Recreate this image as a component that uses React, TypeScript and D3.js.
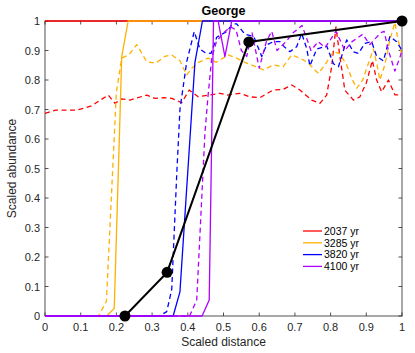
import React from "react";
import * as d3 from "d3";

type Pt = [number, number];

const title = "George";
const xLabel = "Scaled distance";
const yLabel = "Scaled abundance";
const xTicks = [0, 0.1, 0.2, 0.3, 0.4, 0.5, 0.6, 0.7, 0.8, 0.9, 1];
const yTicks = [0, 0.1, 0.2, 0.3, 0.4, 0.5, 0.6, 0.7, 0.8, 0.9, 1];
const years = ["2037 yr", "3285 yr", "3820 yr", "4100 yr"];

const solid2037: Pt[] = [[0, 1], [1, 1]];
const solid3285: Pt[] = [[0, 0], [0.173, 0], [0.194, 0.026], [0.215, 0.88], [0.233, 1], [1, 1]];
const solid3820: Pt[] = [[0, 0], [0.359, 0], [0.378, 0.082], [0.42, 0.86], [0.441, 1], [1, 1]];
const solid4100: Pt[] = [[0, 0], [0.44, 0], [0.46, 0.054], [0.472, 1], [0.485, 1], [0.504, 0.879], [0.523, 1], [1, 1]];

const dashed2037: Pt[] = [
  [0, 0.687], [0.03, 0.698], [0.09, 0.698], [0.13, 0.712], [0.177, 0.749], [0.196, 0.721],
  [0.215, 0.736], [0.238, 0.732], [0.285, 0.749], [0.308, 0.738], [0.331, 0.74], [0.355, 0.738],
  [0.383, 0.723], [0.404, 0.766], [0.429, 0.743], [0.46, 0.749], [0.49, 0.755], [0.51, 0.749],
  [0.546, 0.755], [0.574, 0.743], [0.602, 0.74], [0.639, 0.766], [0.667, 0.768], [0.691, 0.783],
  [0.714, 0.766], [0.747, 0.732], [0.77, 0.721], [0.789, 0.749], [0.803, 0.845], [0.815, 0.98],
  [0.826, 0.88], [0.84, 0.765], [0.864, 0.732], [0.882, 0.743], [0.9, 0.79], [0.917, 0.866],
  [0.929, 0.8], [0.943, 0.76], [0.962, 0.8], [0.98, 0.75], [1, 0.749],
];
const dashed3285: Pt[] = [
  [0, 0], [0.15, 0], [0.172, 0.05], [0.2, 0.76], [0.215, 0.875], [0.235, 0.885], [0.257, 0.92],
  [0.285, 0.862], [0.31, 0.857], [0.335, 0.88], [0.355, 0.885], [0.378, 0.865], [0.397, 0.817],
  [0.411, 0.84], [0.43, 0.86], [0.457, 0.874], [0.48, 0.86], [0.513, 0.885], [0.537, 0.874],
  [0.56, 0.86], [0.59, 0.845], [0.612, 0.834], [0.639, 0.851], [0.667, 0.845], [0.691, 0.885],
  [0.714, 0.874], [0.735, 0.86], [0.766, 0.822], [0.784, 0.851], [0.808, 0.896], [0.825, 0.89],
  [0.845, 0.851], [0.859, 0.806], [0.873, 0.772], [0.89, 0.8], [0.906, 0.857], [0.92, 0.905],
  [0.929, 0.857], [0.938, 0.8], [0.952, 0.851], [0.966, 0.935], [0.98, 0.995], [0.99, 0.93],
  [1, 0.882],
];
const dashed3820: Pt[] = [
  [0, 0], [0.32, 0], [0.341, 0.015], [0.355, 0.09], [0.369, 0.48], [0.378, 0.7], [0.397, 0.862],
  [0.418, 0.964], [0.434, 0.905], [0.448, 0.893], [0.465, 0.89], [0.481, 0.945], [0.51, 0.965],
  [0.525, 0.99], [0.537, 0.99], [0.56, 0.955], [0.585, 0.947], [0.607, 0.88], [0.621, 0.919],
  [0.64, 0.93], [0.658, 0.93], [0.67, 0.913], [0.686, 0.896], [0.705, 0.913], [0.719, 0.958],
  [0.733, 0.907], [0.742, 0.848], [0.761, 0.905], [0.789, 0.915], [0.808, 0.855], [0.822, 0.845],
  [0.845, 0.936], [0.864, 0.895], [0.878, 0.89], [0.896, 0.924], [0.915, 0.93], [0.929, 0.88],
  [0.948, 0.865], [0.966, 0.947], [0.985, 0.93], [1, 0.9],
];
const dashed4100: Pt[] = [
  [0, 0], [0.405, 0], [0.425, 0.054], [0.448, 0.62], [0.457, 0.75], [0.467, 0.874], [0.48, 0.93],
  [0.5, 0.96], [0.52, 0.98], [0.535, 0.97], [0.55, 0.9], [0.565, 0.88], [0.58, 0.96], [0.6, 0.84],
  [0.62, 0.93], [0.635, 0.965], [0.65, 0.9], [0.675, 0.93], [0.695, 0.96], [0.72, 0.985],
  [0.745, 0.9], [0.765, 0.93], [0.785, 0.91], [0.815, 0.965], [0.84, 0.9], [0.86, 0.93],
  [0.89, 0.955], [0.91, 0.92], [0.94, 0.96], [0.95, 0.965], [0.962, 0.9], [0.98, 0.83],
  [0.995, 0.88], [1, 0.9],
];
const fieldPoints: Pt[] = [[0.224, 0], [0.342, 0.148], [0.571, 0.929], [1, 1]];

const colors = ["#ff0000", "#ffb000", "#0000ff", "#b000ff"];
const solids = [solid2037, solid3285, solid3820, solid4100];
const dashes = [dashed2037, dashed3285, dashed3820, dashed4100];

const W = 415;
const H = 353;
const M = { left: 45, right: 402, top: 21, bottom: 316 };
const FONT = "'Liberation Sans', Arial, Helvetica, sans-serif";
const AX = "#262626";

export default function App() {
  const x = d3.scaleLinear().domain([0, 1]).range([M.left, M.right]);
  const y = d3.scaleLinear().domain([0, 1]).range([M.bottom, M.top]);
  const line = d3.line<Pt>().x((d) => x(d[0])).y((d) => y(d[1]));
  const fmt = (v: number) => d3.format("~g")(v);
  const tl = 3.5;

  return (
    <div style={{ position: "fixed", left: 0, top: 0, width: W, height: H, background: "#fff" }}>
      <svg width={W} height={H} style={{ display: "block" }} fontFamily={FONT}>
        <rect x={0} y={0} width={W} height={H} fill="#fff" />
        {/* box */}
        <rect x={M.left} y={M.top} width={M.right - M.left} height={M.bottom - M.top} fill="none" stroke={AX} strokeWidth={0.8} />
        {xTicks.map((t) => (
          <g key={"xt" + t}>
            <line x1={x(t)} x2={x(t)} y1={M.bottom} y2={M.bottom - tl} stroke={AX} strokeWidth={0.8} />
            <line x1={x(t)} x2={x(t)} y1={M.top} y2={M.top + tl} stroke={AX} strokeWidth={0.8} />
            <text x={x(t)} y={M.bottom + 15} textAnchor="middle" fontSize={11} fill={AX}>{fmt(t)}</text>
          </g>
        ))}
        {yTicks.map((t) => (
          <g key={"yt" + t}>
            <line x1={M.left} x2={M.left + tl} y1={y(t)} y2={y(t)} stroke={AX} strokeWidth={0.8} />
            <line x1={M.right} x2={M.right - tl} y1={y(t)} y2={y(t)} stroke={AX} strokeWidth={0.8} />
            <text x={M.left - 5} y={y(t) + 4} textAnchor="end" fontSize={11} fill={AX}>{fmt(t)}</text>
          </g>
        ))}
        {/* series */}
        {colors.map((c, i) => (
          <g key={"s" + i}>
            <path d={line(solids[i]) || ""} fill="none" stroke={c} strokeWidth={1.3} strokeLinejoin="round" />
            <path d={line(dashes[i]) || ""} fill="none" stroke={c} strokeWidth={1.3} strokeDasharray="5,3.5" strokeLinejoin="round" />
          </g>
        ))}
        <path d={line(fieldPoints) || ""} fill="none" stroke="#000" strokeWidth={2} />
        {fieldPoints.map((p, i) => (
          <circle key={"m" + i} cx={x(p[0])} cy={y(p[1])} r={5.5} fill="#000" />
        ))}
        {/* legend */}
        {years.map((yr, i) => (
          <g key={"l" + i}>
            <line x1={303} x2={322} y1={231 + i * 11.8} y2={231 + i * 11.8} stroke={colors[i]} strokeWidth={1.3} />
            <text x={324} y={231 + i * 11.8 + 3.7} fontSize={10.5} fill="#000">{yr}</text>
          </g>
        ))}
        {/* labels */}
        <text x={(M.left + M.right) / 2} y={15} textAnchor="middle" fontSize={12.5} fontWeight="bold" fill="#000">{title}</text>
        <text x={(M.left + M.right) / 2} y={346} textAnchor="middle" fontSize={12} fill={AX}>{xLabel}</text>
        <text transform={`translate(16, ${(M.top + M.bottom) / 2}) rotate(-90)`} textAnchor="middle" fontSize={12} fill={AX}>{yLabel}</text>
      </svg>
    </div>
  );
}
